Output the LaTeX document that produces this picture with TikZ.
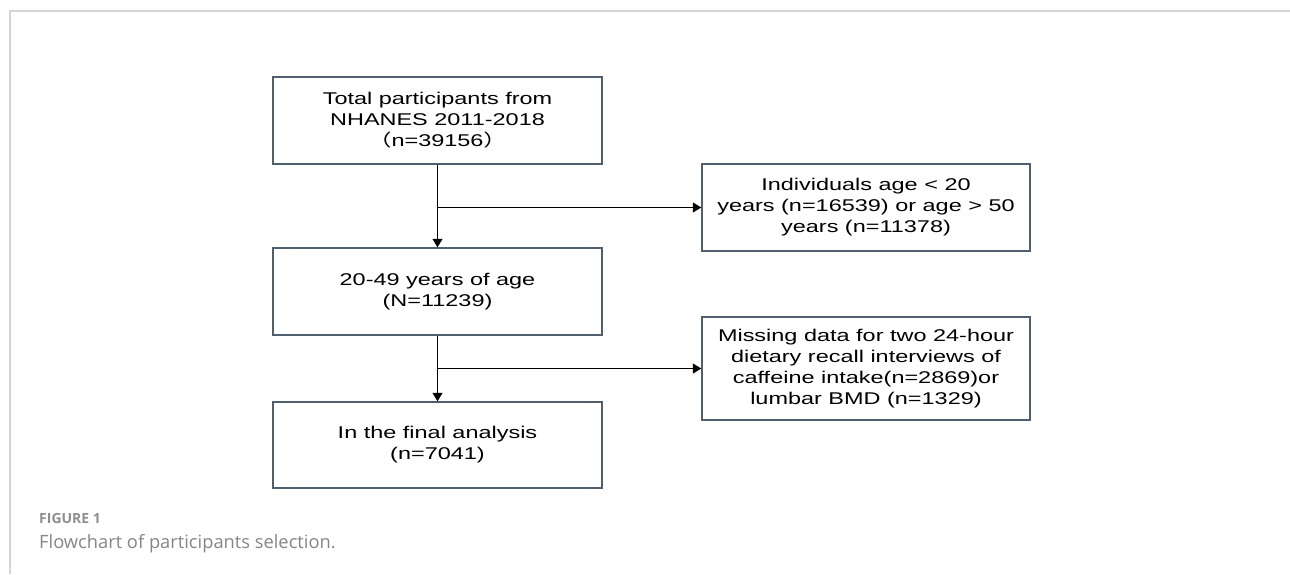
\documentclass[tikz,border=0pt]{standalone}
\usepackage{fontspec}
\setmainfont{Liberation Sans}
\newfontfamily\boxfont[FakeStretch=1.38]{Liberation Sans}
\newfontfamily\cjk[FakeStretch=1.38]{Noto Sans CJK SC}
\newfontfamily\capfont{Open Sans}
\usetikzlibrary{arrows.meta}
\definecolor{framecol}{HTML}{D4D4D4}
\definecolor{boxcol}{HTML}{4F5F6E}
\definecolor{capgray}{HTML}{8E8E8E}
\definecolor{textgray}{HTML}{858585}
\tikzset{
  boxnode/.style={draw=boxcol, line width=1.4pt, align=center, inner sep=0pt,
    font=\boxfont\fontsize{17}{21}\selectfont, text=black},
  arr/.style={draw=black, line width=1pt, -{Triangle[length=8.5pt,width=10pt]}}
}
\begin{document}
\begin{tikzpicture}[x=1pt,y=-1pt]
\useasboundingbox (0,0) rectangle (1290,574);
\draw[framecol, line width=2pt] (10,574) -- (10,11) -- (1290,11);

\node[boxnode, minimum width=329pt, minimum height=87pt] (total) at (437.5,120.5)
  {Total participants from\\NHANES 2011-2018\\{\cjk （}n=39156{\cjk ）}};
\node[boxnode, minimum width=328pt, minimum height=87pt] (excl1) at (866,207.5)
  {Individuals age < 20\\years (n=16539) or age > 50\\years (n=11378)};
\node[boxnode, minimum width=329pt, minimum height=87pt] (age) at (437.5,291.5)
  {20-49 years of age\\(N=11239)};
\node[boxnode, minimum width=328pt, minimum height=103pt] (excl2) at (866,368.5)
  {Missing data for two 24-hour\\dietary recall interviews of\\caffeine intake(n=2869)or\\lumbar BMD (n=1329)};
\node[boxnode, minimum width=329pt, minimum height=86pt] (final) at (437.5,445)
  {In the final analysis\\(n=7041)};

\coordinate (j1) at (total.south |- excl1.west);
\coordinate (j2) at (age.south |- excl2.west);
\draw[arr] (total.south) -- (age.north);
\draw[arr] (j1) -- (excl1.west);
\draw[arr] (age.south) -- (final.north);
\draw[arr] (j2) -- (excl2.west);

\node[anchor=base west, inner sep=0pt, text=capgray, font=\capfont\bfseries\fontsize{14}{16}\selectfont] (figlabel) at (39,523) {FIGURE 1};
\node[anchor=base west, inner sep=0pt, text=textgray, font=\capfont\fontsize{18.3}{21}\selectfont] (caption) at (39,548) {Flowchart of participants selection.};
\end{tikzpicture}
\end{document}
